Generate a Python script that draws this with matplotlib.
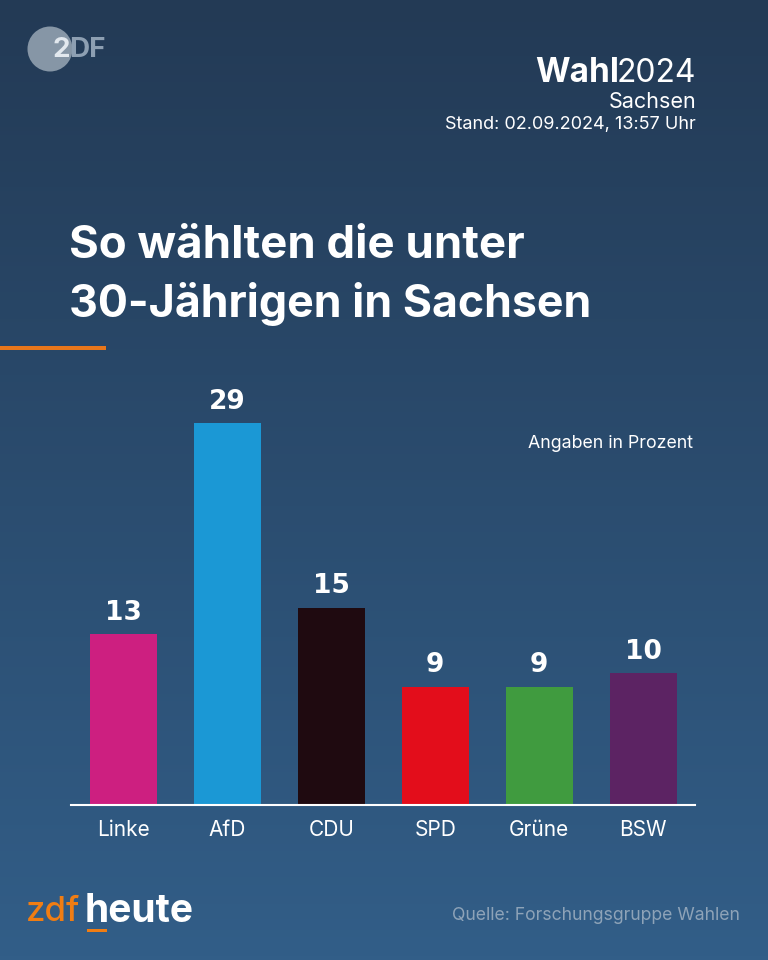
import numpy as np
import matplotlib
matplotlib.use("Agg")
import matplotlib.pyplot as plt
from matplotlib.patches import Circle, Rectangle

parties = ["Linke", "AfD", "CDU", "SPD", "Grüne", "BSW"]
shares = [13, 29, 15, 9, 9, 10]
colors = ["#cd1f80", "#1b98d5", "#1f0a10", "#e30d1b", "#409b3f", "#5c2363"]

plt.rcParams["font.family"] = ["Inter", "DejaVu Sans"]

fig = plt.figure(figsize=(7.68, 9.6), dpi=100)

# background layer in pixel coordinates
bg = fig.add_axes([0, 0, 1, 1])
bg.set_xlim(0, 768)
bg.set_ylim(960, 0)
bg.axis("off")
grad = np.linspace(0, 1, 256).reshape(-1, 1, 1)
top = np.array([0x23, 0x3a, 0x55]) / 255
bottom = np.array([0x32, 0x5e, 0x88]) / 255
bg.imshow(top + (bottom - top) * grad, extent=[0, 768, 960, 0], aspect="auto")

# ZDF logo
bg.add_patch(Circle((50, 49), 22.5, color="#8696a6", lw=0))
bg.text(53, 50, "2", color="#e2e8ee", fontsize=20, fontweight="bold", va="center", ha="left")
bg.text(69, 50, "DF", color="#8d9fb2", fontsize=20, fontweight="bold", va="center", ha="left")

# header
bg.text(619, 73, "Wahl", color="white", fontsize=24, fontweight="bold", va="center", ha="right")
bg.text(696, 73, "2024", color="white", fontsize=23, va="center", ha="right")
bg.text(696, 102, "Sachsen", color="white", fontsize=15.5, va="center", ha="right")
bg.text(696, 124.5, "Stand: 02.09.2024, 13:57 Uhr", color="white", fontsize=13, va="center", ha="right")

# title
bg.text(69, 246, "So wählten die unter", color="white", fontsize=32.8, fontweight="bold", va="center")
bg.text(69, 304, "30-Jährigen in Sachsen", color="white", fontsize=32.2, fontweight="bold", va="center")
bg.add_patch(Rectangle((0, 346), 106, 4, color="#e8761a", lw=0))

bg.text(693, 443, "Angaben in Prozent", color="white", fontsize=12.8, va="center", ha="right")

# footer
bg.text(26, 912, "zdf", color="#f07d13", fontsize=25, fontweight="medium", va="center")
bg.text(85, 911, "heute", color="white", fontsize=28, fontweight="bold", va="center")
bg.add_patch(Rectangle((87, 929), 20, 3, color="#f07d13", lw=0))
bg.text(740, 916, "Quelle: Forschungsgruppe Wahlen", color="#8ea3b8", fontsize=12.7, va="center", ha="right")

# bars
ax = fig.add_axes([71.3 / 768, (960 - 805) / 960, 624 / 768, 395 / 960])
ax.patch.set_alpha(0)
x = np.arange(len(parties))
bars = ax.bar(x, shares, width=0.65, color=colors)
ax.set_xlim(-0.5, 5.5)
ax.set_ylim(0, 30)
for s in ["top", "left", "right"]:
    ax.spines[s].set_visible(False)
ax.spines["bottom"].set_color("white")
ax.spines["bottom"].set_linewidth(1.5)
ax.set_yticks([])
ax.set_xticks(x)
ax.set_xticklabels(parties, color="white", fontsize=15)
ax.tick_params(axis="x", length=0, pad=11)
for b, v in zip(bars, shares):
    ax.annotate(str(v), (b.get_x() + b.get_width() / 2, v), xytext=(0, 6), textcoords="offset points",
                ha="center", va="bottom", color="white", fontsize=19, fontweight="bold",
                family=["DejaVu Sans"])

fig.savefig("out.png", dpi=100)
